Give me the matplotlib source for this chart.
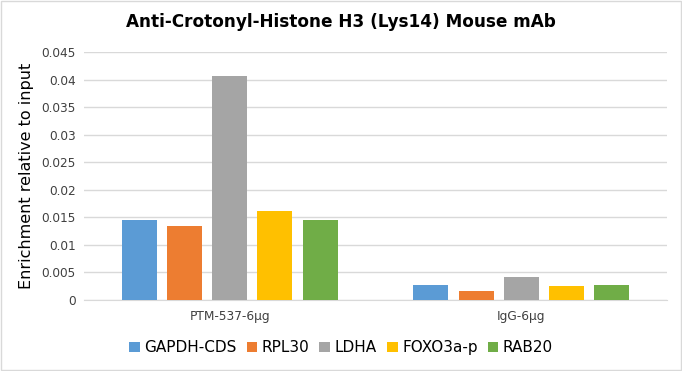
import matplotlib
matplotlib.use("Agg")
import matplotlib.pyplot as plt
import numpy as np
from matplotlib.patches import Rectangle

categories = ["PTM-537-6μg", "IgG-6μg"]
series_names = ["GAPDH-CDS", "RPL30", "LDHA", "FOXO3a-p", "RAB20"]
gapdh = [0.0145, 0.0027]
rpl30 = [0.0134, 0.0016]
ldha = [0.0406, 0.0042]
foxo = [0.0161, 0.0025]
rab20 = [0.0145, 0.0027]
values = [gapdh, rpl30, ldha, foxo, rab20]
colors = ["#5B9BD5", "#ED7D31", "#A5A5A5", "#FFC000", "#70AD47"]
yticks = [0, 0.005, 0.01, 0.015, 0.02, 0.025, 0.03, 0.035, 0.04, 0.045]
ytick_labels = ["0", "0.005", "0.01", "0.015", "0.02", "0.025", "0.03", "0.035", "0.04", "0.045"]

plt.rcParams['font.family'] = ['DejaVu Sans']
fig = plt.figure(figsize=(6.82, 3.71), dpi=100)
ax = fig.add_axes([0.123, 0.1914, 0.855, 0.6686])

x = np.arange(len(categories))
step = 0.155
width = 0.12
for i, (name, vals, c) in enumerate(zip(series_names, values, colors)):
    ax.bar(x + (i - 2) * step, vals, width=width, color=c, label=name, zorder=3)

ax.set_xlim(-0.5, 1.5)
ax.set_ylim(0, 0.045)
ax.set_yticks(yticks)
ax.set_yticklabels(ytick_labels, fontsize=8.7, color="#404040")
ax.set_xticks(x)
ax.set_xticklabels(categories, fontsize=8.7, color="#404040")
ax.tick_params(axis='y', length=0, pad=6)
ax.tick_params(axis='x', length=0, pad=7)
ax.grid(axis='y', color="#D9D9D9", linewidth=1, zorder=0)
for s in ["top", "right", "left"]:
    ax.spines[s].set_visible(False)
ax.spines["bottom"].set_color("#D9D9D9")
ax.set_ylabel("Enrichment relative to input", fontsize=11.5, color="#000000", labelpad=5)

fig.suptitle("Anti-Crotonyl-Histone H3 (Lys14) Mouse mAb", fontsize=12.2, fontweight="bold", y=0.964)

fig.legend(loc="center", bbox_to_anchor=(0.5, 0.062), ncol=5, frameon=False,
           fontsize=11, handlelength=0.7, handleheight=0.7, handletextpad=0.3,
           columnspacing=0.65)

fig.patches.append(Rectangle((0.002, 0.002), 0.996, 0.996, transform=fig.transFigure,
                             fill=False, edgecolor="#D9D9D9", linewidth=1))

fig.savefig("out.png", dpi=100)
